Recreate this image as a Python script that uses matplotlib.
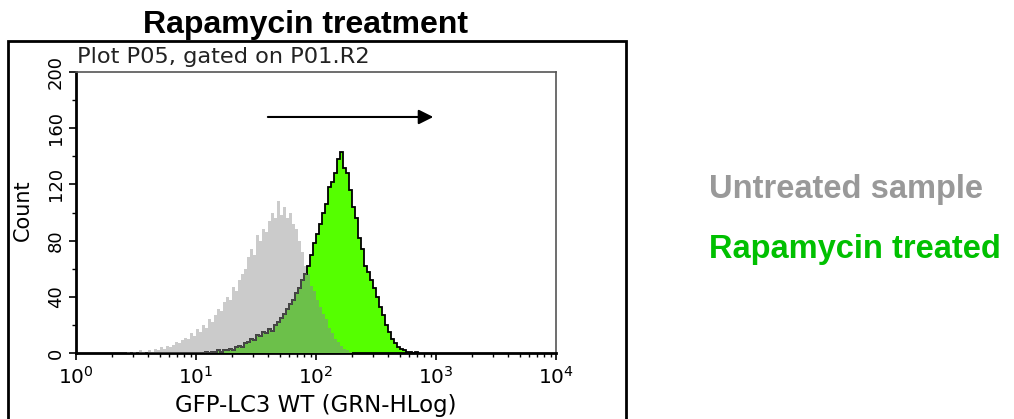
import numpy as np
import matplotlib.pyplot as plt
from matplotlib.patches import Rectangle

# histogram channels: log10 start and width of one channel
LOG_STEP = 0.025
UNTREATED_START = 0.40
TREATED_START = 1.05

# counts per channel
untreated_counts = [0, 1, 0, 1, 0, 2, 1, 0,
                    2, 1, 3, 2, 4, 3, 5, 4,
                    6, 8, 7, 9, 11, 10, 14, 12,
                    17, 15, 20, 18, 24, 22, 27, 31,
                    30, 36, 40, 38, 47, 44, 52, 56,
                    60, 68, 74, 70, 84, 80, 88, 86,
                    94, 100, 96, 108, 98, 104, 96, 100,
                    92, 88, 80, 72, 62, 56, 48, 44,
                    38, 33, 28, 24, 18, 14, 10, 8,
                    5, 3, 2, 1]

treated_counts = [0, 1, 0, 1, 1, 2, 1, 2,
                  2, 3, 2, 4, 5, 4, 7, 8,
                  10, 9, 13, 12, 15, 14, 17, 16,
                  20, 22, 25, 28, 31, 35, 38, 43,
                  46, 52, 56, 62, 70, 78, 85, 92,
                  100, 106, 118, 122, 128, 138, 143, 132,
                  128, 116, 104, 96, 82, 74, 62, 58,
                  52, 46, 40, 33, 27, 20, 15, 10,
                  7, 4, 3, 2, 1, 1, 0, 1]

title = 'Rapamycin treatment'
header = 'Plot P05, gated on P01.R2'
x_label = 'GFP-LC3 WT (GRN-HLog)'
y_label = 'Count'
labels = ['Untreated sample', 'Rapamycin treated']

GRAY = '#cbcbcb'
GREEN = '#55ff00'
OVERLAP = '#6cc04a'

def edges(start, n):
    return 10 ** (start + LOG_STEP * np.arange(n + 1))

# put both histograms on a common channel grid to get the overlap
offset = int(round((TREATED_START - UNTREATED_START) / LOG_STEP))
n_all = max(len(untreated_counts), offset + len(treated_counts))
u_all = np.zeros(n_all)
t_all = np.zeros(n_all)
u_all[:len(untreated_counts)] = untreated_counts
t_all[offset:offset + len(treated_counts)] = treated_counts
overlap = np.minimum(u_all, t_all)
e_all = edges(UNTREATED_START, n_all)

fig = plt.figure(figsize=(10.14, 4.19), dpi=100)
ax = fig.add_axes([0.075, 0.1575, 0.4734, 0.6706])

ax.stairs(untreated_counts, edges(UNTREATED_START, len(untreated_counts)),
          fill=True, color=GRAY, zorder=1)
ax.stairs(treated_counts, edges(TREATED_START, len(treated_counts)),
          fill=True, color=GREEN, zorder=2)
ax.stairs(overlap, e_all, fill=True, color=OVERLAP, zorder=3)
ax.stairs(treated_counts, edges(TREATED_START, len(treated_counts)),
          color='black', lw=1.3, zorder=4)
# outline hidden under the untreated curve looks dark gray
under = np.where(u_all > t_all, t_all, np.nan)
ax.stairs(under, e_all, color='#4a4a4a', lw=1.3, zorder=5, baseline=None)

ax.set_xscale('log')
ax.set_xlim(1, 1e4)
ax.set_ylim(0, 200)
ax.set_yticks(np.arange(0, 201, 40))
ax.set_yticks(np.arange(0, 201, 20), minor=True)
ax.tick_params(axis='both', which='major', direction='out', length=5,
               width=1.2, pad=3)
ax.tick_params(axis='both', which='minor', direction='out', length=3, width=1)
ax.tick_params(axis='x', labelsize=14.5, pad=4)
ax.tick_params(axis='y', labelsize=13, labelrotation=90)
for t in ax.get_yticklabels():
    t.set_va('center')

for s in ['left', 'bottom']:
    ax.spines[s].set_linewidth(2)
    ax.spines[s].set_color('black')
for s in ['top', 'right']:
    ax.spines[s].set_linewidth(1.2)
    ax.spines[s].set_color('#555555')

ax.set_xlabel(x_label, fontsize=16.5, labelpad=5)
ax.set_ylabel(y_label, fontsize=15)
ax.yaxis.set_label_coords(-0.09, 0.51)

ax.annotate('', xy=(1000, 168), xytext=(37.6, 168),
            arrowprops=dict(arrowstyle='-|>', lw=1.5, color='black',
                            mutation_scale=22))

ax.text(0.002, 1.032, header, transform=ax.transAxes, fontsize=16.2,
        ha='left', va='baseline', color='#222222')

fig.text(0.301, 0.921, title, fontsize=23, fontweight='bold',
         family='Liberation Sans', ha='center', va='baseline')

fig.text(0.699, 0.547, labels[0], fontsize=23.5, fontweight='bold',
         family='Liberation Sans', color='#999999', ha='left', va='center')
fig.text(0.699, 0.404, labels[1], fontsize=23.5, fontweight='bold',
         family='Liberation Sans', color='#00c000', ha='left', va='center')

fig.patches.append(Rectangle((0.008, -0.05), 0.609, 0.952,
                             transform=fig.transFigure, fill=False,
                             lw=2, edgecolor='black'))

fig.savefig('out.png', dpi=100)
